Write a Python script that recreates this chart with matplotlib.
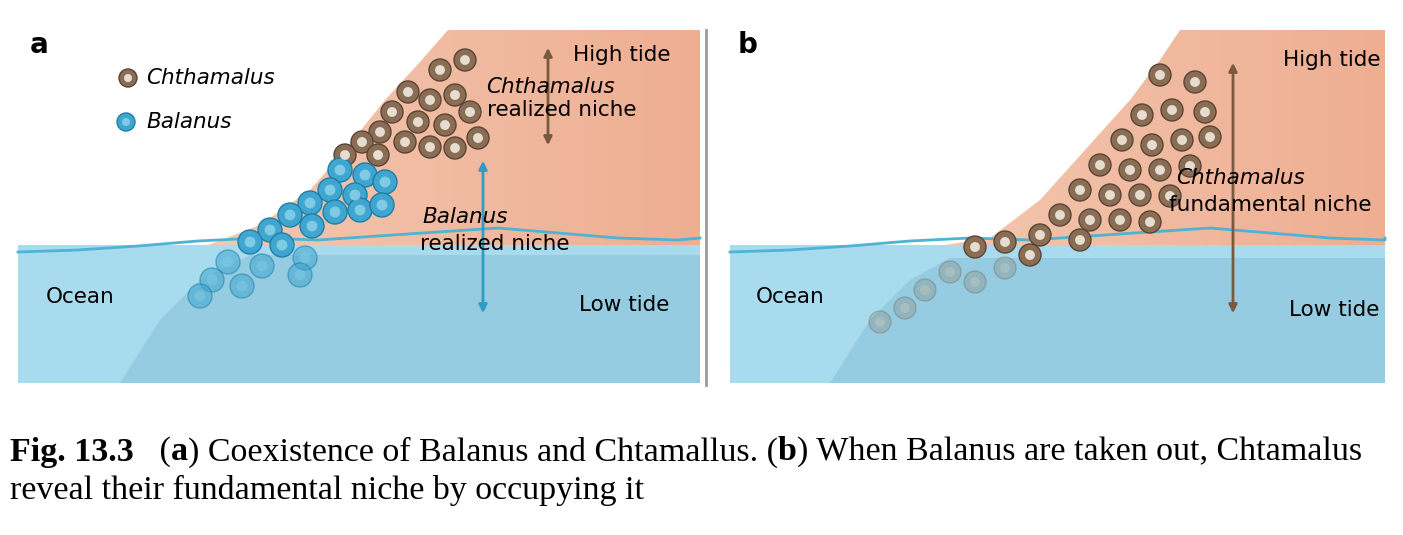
"""Barnacle niche illustration (Connell): realized vs fundamental niche."""

import numpy as np
import matplotlib.pyplot as plt
from matplotlib.patches import Polygon, Circle, FancyArrowPatch

# Rock outline above the water (pixel coords), per panel
rock_a = [(190, 252), (260, 225), (310, 190), (345, 150), (385, 100), (420, 62), (448, 30), (700, 30), (700, 252)]
rock_b = [(900, 252), (990, 238), (1040, 200), (1085, 150), (1130, 100), (1160, 60), (1180, 30), (1385, 30), (1385, 252)]
under_a = [(120, 383), (160, 320), (200, 280), (250, 255), (700, 255), (700, 383)]
under_b = [(830, 383), (870, 320), (910, 280), (950, 258), (1385, 258), (1385, 383)]
wave_x = [0, 60, 120, 180, 240, 300, 360, 420, 480, 540, 600, 660, 682]
wave_y = [252, 250, 246, 241, 238, 240, 236, 232, 228, 233, 238, 240, 238]

chth_a = [(440, 70), (465, 60), (455, 95), (430, 100), (408, 92), (392, 112), (418, 122), (445, 125),
          (470, 112), (380, 132), (405, 142), (430, 147), (455, 148), (362, 142), (378, 155), (345, 155), (478, 138)]
bal_a = [(340, 170), (365, 175), (385, 182), (355, 195), (330, 190), (310, 203), (335, 212), (360, 210),
         (382, 205), (290, 215), (312, 226), (270, 230), (250, 242), (282, 245), (305, 258), (228, 262),
         (262, 266), (212, 280), (242, 286), (200, 296), (300, 275)]
chth_b = [(1160, 75), (1195, 82), (1172, 110), (1142, 115), (1205, 112), (1122, 140), (1152, 145), (1182, 140),
          (1210, 137), (1100, 165), (1130, 170), (1160, 170), (1190, 166), (1080, 190), (1110, 195), (1140, 195),
          (1170, 196), (1060, 215), (1090, 220), (1120, 220), (1150, 222), (1040, 235), (1005, 242), (975, 247),
          (1030, 255), (1080, 240)]
chth_b_under = [(950, 272), (925, 290), (905, 308), (880, 322), (1005, 268), (975, 282)]

caption_line1 = [("Fig. 13.3", "bold"), ("   (", "normal"), ("a", "bold"),
                 (") Coexistence of Balanus and Chtamallus. (", "normal"), ("b", "bold"),
                 (") When Balanus are taken out, Chtamalus", "normal")]
caption_line2 = "reveal their fundamental niche by occupying it"

BROWN = "#8a6d55"
BLUE = "#3fa6cf"

fig = plt.figure(figsize=(14.03, 5.35), dpi=100)
ax = fig.add_axes([0, 0, 1, 1])
ax.set_xlim(0, 1403)
ax.set_ylim(535, 0)
ax.axis("off")

grad = np.linspace(0, 1, 256).reshape(1, -1)
cmap = plt.matplotlib.colors.LinearSegmentedColormap.from_list("r", ["#f6d2bd", "#eeae92"])
for x0, x1, rock, under in [(18, 700, rock_a, under_a), (730, 1385, rock_b, under_b)]:
    poly = Polygon(rock, closed=True, facecolor="none", edgecolor="none")
    ax.add_patch(poly)
    im = ax.imshow(grad, extent=(x0, x1, 252, 30), aspect="auto", cmap=cmap, zorder=1)
    im.set_clip_path(poly)
    ax.add_patch(plt.Rectangle((x0, 245), x1 - x0, 138, facecolor="#a9dbee", edgecolor="none", zorder=2))
    ax.add_patch(Polygon(under, closed=True, facecolor="#8ec6dc", edgecolor="none", alpha=0.7, zorder=2))
    wx = [min(x0 + w, x1) for w in wave_x] + [x1]
    wy = wave_y + [wave_y[-1]]
    ax.plot(wx, wy, color="#4fb3d4", lw=2, zorder=3)


def barnacle(x, y, color, alpha=1.0, r=11):
    ax.add_patch(Circle((x, y), r, facecolor=color, edgecolor="#5a4535" if color == BROWN else "#1f7fa8",
                        lw=1, alpha=alpha, zorder=4))
    ax.add_patch(Circle((x, y), r * 0.45, facecolor="#e6dccf" if color == BROWN else "#7fcbe6",
                        edgecolor="none", alpha=alpha, zorder=5))


for x, y in chth_a:
    barnacle(x, y, BROWN)
for x, y in bal_a:
    barnacle(x, y, BLUE, alpha=0.55 if y > 250 else 1.0, r=12)
for x, y in chth_b:
    barnacle(x, y, BROWN)
for x, y in chth_b_under:
    barnacle(x, y, BROWN, alpha=0.25)

barnacle(128, 78, BROWN, r=9)
barnacle(126, 122, BLUE, r=9)

ax.plot([706, 706], [30, 385], color="#9a9a9a", lw=2)


def arrow(x, y0, y1, color):
    ax.add_patch(FancyArrowPatch((x, y0), (x, y1), arrowstyle="<|-|>", mutation_scale=12,
                                 color=color, lw=2, zorder=6))


arrow(548, 45, 148, "#7a5a3f")
arrow(483, 158, 316, "#2e9cc4")
arrow(1233, 60, 316, "#7a5a3f")

fs = 15.5
ax.text(30, 45, "a", fontsize=20, fontweight="bold", va="center")
ax.text(738, 45, "b", fontsize=20, fontweight="bold", va="center")
ax.text(146, 78, "Chthamalus", fontsize=fs, style="italic", va="center")
ax.text(146, 122, "Balanus", fontsize=fs, style="italic", va="center")
ax.text(622, 55, "High tide", fontsize=fs, ha="center", va="center", zorder=7)
ax.text(1332, 60, "High tide", fontsize=fs, ha="center", va="center", zorder=7)
ax.text(550, 87, "Chthamalus", fontsize=fs, style="italic", ha="center", va="center", zorder=7)
ax.text(562, 110, "realized niche", fontsize=fs, ha="center", va="center", zorder=7)
ax.text(465, 217, "Balanus", fontsize=fs, style="italic", ha="center", va="center", zorder=7)
ax.text(495, 244, "realized niche", fontsize=fs, ha="center", va="center", zorder=7)
ax.text(80, 297, "Ocean", fontsize=fs, ha="center", va="center", zorder=7)
ax.text(624, 305, "Low tide", fontsize=fs, ha="center", va="center", zorder=7)
ax.text(790, 297, "Ocean", fontsize=fs, ha="center", va="center", zorder=7)
ax.text(1334, 310, "Low tide", fontsize=fs, ha="center", va="center", zorder=7)
ax.text(1240, 178, "Chthamalus", fontsize=fs, style="italic", ha="center", va="center", zorder=7)
ax.text(1270, 205, "fundamental niche", fontsize=fs, ha="center", va="center", zorder=7)

# Caption: chain the mixed-weight pieces one after another
cap = dict(fontsize=24.5, family="Liberation Serif", va="center")
renderer = fig.canvas.get_renderer()
x = 10
for piece, weight in caption_line1:
    t = ax.text(x, 452, piece, fontweight=weight, **cap)
    bb = t.get_window_extent(renderer=renderer)
    x += bb.width
ax.text(10, 490, caption_line2, **cap)

fig.savefig("out.png", dpi=100)
